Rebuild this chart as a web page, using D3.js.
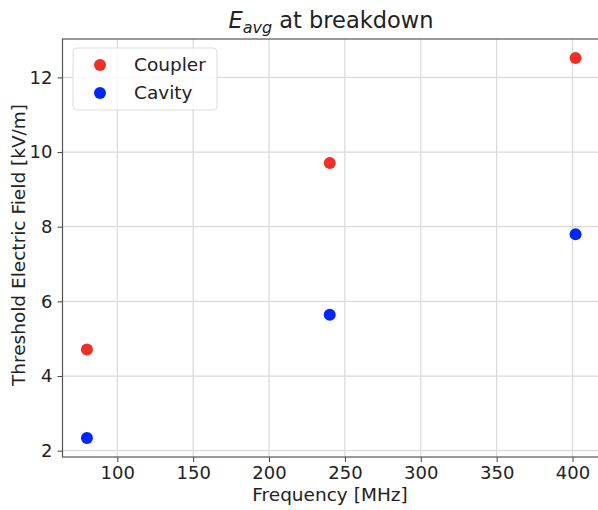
<!DOCTYPE html>
<html>
<head>
<meta charset="utf-8">
<script src="https://cdn.jsdelivr.net/npm/d3@7"></script>
<style>
  body { margin: 0; background: #fff; }
  text { font-family: "DejaVu Sans", sans-serif; fill: #222; }
</style>
</head>
<body>
<script>
// data
var frequencies = [80, 240, 402];
var coupler = [4.71, 9.71, 12.52];
var cavity = [2.34, 5.64, 7.80];
var seriesNames = ["Coupler", "Cavity"];
var xTicks = [100, 150, 200, 250, 300, 350, 400];
var yTicks = [2, 4, 6, 8, 10, 12];

var width = 598, height = 510;
// note: "top" is reserved on window, so use plot* names
var plotLeft = 62.5, plotRight = 600, plotTop = 39, plotBottom = 457;
var colors = { Coupler: "#ee3124", Cavity: "#0026ff" };

var svg = d3.select("body").append("svg")
    .attr("width", width)
    .attr("height", height);

// matplotlib style 5% margins
var xExt = d3.extent(frequencies);
var xPad = (xExt[1] - xExt[0]) * 0.05;
var allY = coupler.concat(cavity);
var yExt = d3.extent(allY);
var yPad = (yExt[1] - yExt[0]) * 0.05;

var x = d3.scaleLinear()
    .domain([xExt[0] - xPad, xExt[1] + xPad])
    .range([plotLeft, plotRight]);
var y = d3.scaleLinear()
    .domain([yExt[0] - yPad, yExt[1] + yPad])
    .range([plotBottom, plotTop]);

// grid
svg.append("g").selectAll("line")
    .data(xTicks).enter().append("line")
    .attr("x1", d => x(d)).attr("x2", d => x(d))
    .attr("y1", plotTop).attr("y2", plotBottom)
    .attr("stroke", "#d9d9d9").attr("stroke-width", 1.2);
svg.append("g").selectAll("line")
    .data(yTicks).enter().append("line")
    .attr("x1", plotLeft).attr("x2", plotRight)
    .attr("y1", d => y(d)).attr("y2", d => y(d))
    .attr("stroke", "#d9d9d9").attr("stroke-width", 1.2);

// axes
var xAxis = svg.append("g")
    .attr("transform", "translate(0," + plotBottom + ")")
    .call(d3.axisBottom(x).tickValues(xTicks).tickSizeOuter(0).tickSize(5).tickPadding(4));
var yAxis = svg.append("g")
    .attr("transform", "translate(" + plotLeft + ",0)")
    .call(d3.axisLeft(y).tickValues(yTicks).tickSizeOuter(0).tickSize(5).tickPadding(5));

[xAxis, yAxis].forEach(function(a) {
    a.select(".domain").remove();
    a.selectAll("line").attr("stroke", "#444");
    a.selectAll("text")
        .style("font-family", "DejaVu Sans")
        .style("font-size", "18px")
        .attr("fill", "#222");
});

// frame
svg.append("rect")
    .attr("x", plotLeft).attr("y", plotTop)
    .attr("width", plotRight - plotLeft).attr("height", plotBottom - plotTop)
    .attr("fill", "none")
    .attr("stroke", "#555")
    .attr("stroke-width", 1.2);

// points
var series = [
    { name: "Coupler", values: coupler },
    { name: "Cavity", values: cavity }
];
series.forEach(function(s) {
    svg.append("g").selectAll("circle")
        .data(s.values).enter().append("circle")
        .attr("cx", (d, i) => x(frequencies[i]))
        .attr("cy", d => y(d))
        .attr("r", 6)
        .attr("fill", colors[s.name]);
});

// legend
var lg = svg.append("g");
lg.append("rect")
    .attr("x", 73).attr("y", 48)
    .attr("width", 144).attr("height", 62)
    .attr("rx", 4)
    .attr("fill", "#fff")
    .attr("fill-opacity", 0.8)
    .attr("stroke", "#ddd");
seriesNames.forEach(function(n, i) {
    lg.append("circle")
        .attr("cx", 100).attr("cy", 65 + i * 28)
        .attr("r", 6)
        .attr("fill", colors[n]);
    lg.append("text")
        .attr("x", 134).attr("y", 65 + i * 28)
        .attr("dy", "0.35em")
        .style("font-size", "18.5px")
        .text(n);
});

// title
var title = svg.append("text")
    .attr("x", 331).attr("y", 28)
    .attr("text-anchor", "middle")
    .style("font-size", "22.5px");
title.append("tspan").style("font-style", "italic").text("E");
title.append("tspan").attr("dy", 4.5).style("font-size", "16px").style("font-style", "italic").text("avg");
title.append("tspan").attr("dy", -4.5).text(" at breakdown");

// axis labels
svg.append("text")
    .attr("x", 330).attr("y", 501)
    .attr("text-anchor", "middle")
    .style("font-size", "18.5px")
    .text("Frequency [MHz]");
svg.append("text")
    .attr("transform", "translate(25," + ((plotTop + plotBottom) / 2 - 3) + ") rotate(-90)")
    .attr("text-anchor", "middle")
    .style("font-size", "18.5px")
    .text("Threshold Electric Field [kV/m]");
</script>
</body>
</html>
